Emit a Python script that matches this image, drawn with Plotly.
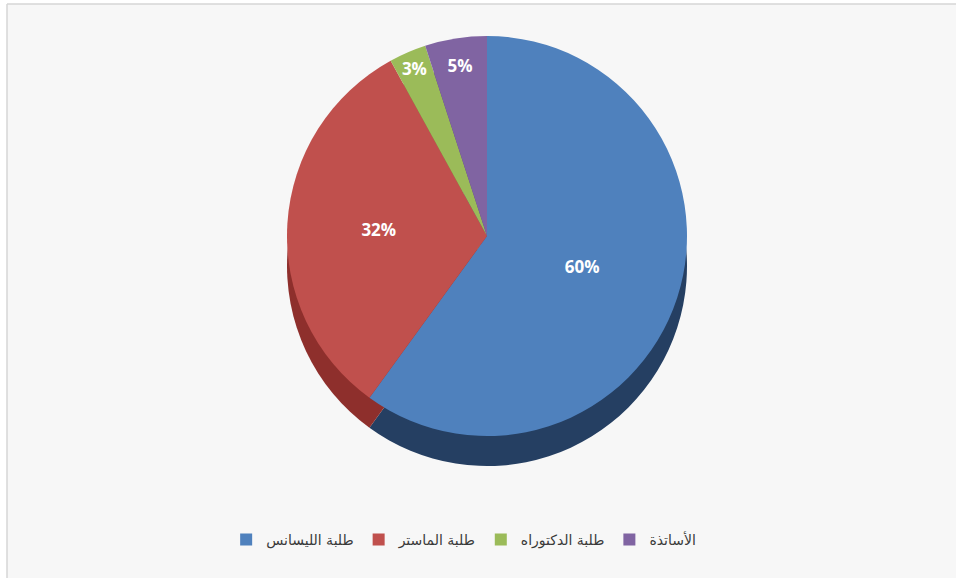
import plotly.graph_objects as go

# Data
categories = ["طلبة الليسانس", "طلبة الماستر", "طلبة الدكتوراه", "الأساتذة"]
values = [60, 32, 3, 5]
colors_top = ["#4F81BD", "#C0504D", "#9BBB59", "#8064A2"]
colors_side = ["#253F62", "#8E2F2C", "#6E8A3A", "#5A4578"]

W, H = 956, 578
cx, cy_top, diam, depth = 487, 236, 400, 30

def dom_x():
    return [(cx - diam / 2) / W, (cx + diam / 2) / W]

def dom_y(cy):
    return [1 - (cy + diam / 2) / H, 1 - (cy - diam / 2) / H]

fig = go.Figure()

# side (depth) of the pie
fig.add_trace(go.Pie(
    labels=categories, values=values, sort=False, direction="clockwise", rotation=0,
    marker=dict(colors=colors_side, line=dict(width=0)),
    textinfo="none", hoverinfo="skip", showlegend=False,
    domain=dict(x=dom_x(), y=dom_y(cy_top + depth)),
))

# top face
fig.add_trace(go.Pie(
    labels=categories, values=values, sort=False, direction="clockwise", rotation=0,
    marker=dict(colors=colors_top, line=dict(width=0)),
    texttemplate="%{percent:.0%}", textposition="inside", insidetextorientation="horizontal",
    textfont=dict(family="Open Sans", size=17, color="white", weight="bold"),
    domain=dict(x=dom_x(), y=dom_y(cy_top)),
    showlegend=True,
))

fig.update_layout(
    width=W, height=H,
    margin=dict(l=0, r=0, t=0, b=0),
    paper_bgcolor="white",
    legend=dict(orientation="h", x=0.485, xanchor="center", y=1 - 540 / H, yanchor="middle",
                font=dict(family="DejaVu Sans", size=14, color="#3a3a3a"),
                bgcolor="rgba(0,0,0,0)"),
    shapes=[
        dict(type="rect", xref="paper", yref="paper", x0=7 / W, x1=1.01, y0=-0.01, y1=1 - 4 / H,
             fillcolor="#f7f7f7", line=dict(width=0), layer="below"),
        dict(type="line", xref="paper", yref="paper", x0=7 / W, x1=1, y0=1 - 4 / H, y1=1 - 4 / H,
             line=dict(color="#d6d6d6", width=1.5), layer="below"),
        dict(type="line", xref="paper", yref="paper", x0=7 / W, x1=7 / W, y0=0, y1=1 - 4 / H,
             line=dict(color="#d6d6d6", width=1.5), layer="below"),
    ],
)

fig.write_html("out.html", config={"displayModeBar": False},
               post_script="document.body.style.margin='0';")
